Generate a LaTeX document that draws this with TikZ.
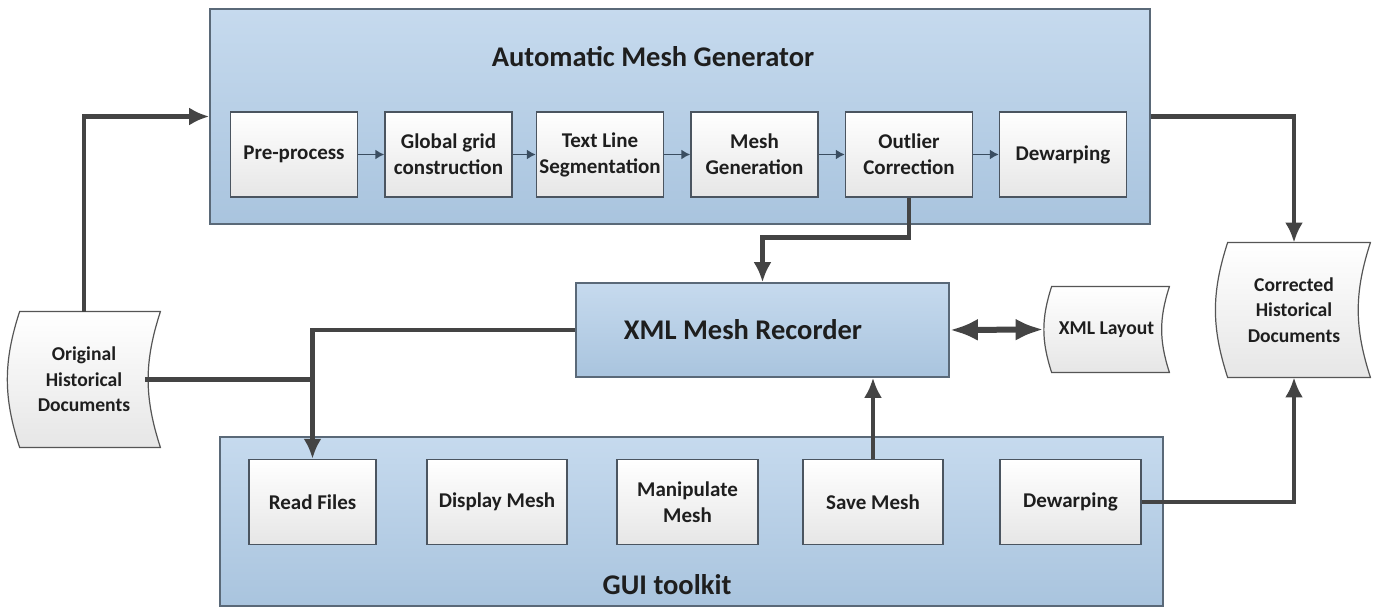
\documentclass[tikz,border=0pt]{standalone}
\usepackage{fontspec}
\setmainfont{Carlito}
\usetikzlibrary{arrows.meta,backgrounds}
\definecolor{paneltop}{HTML}{C6DAEE}
\definecolor{panelbot}{HTML}{A9C4DE}
\definecolor{panelline}{HTML}{5A6978}
\definecolor{boxline}{HTML}{4B5560}
\definecolor{boxbot}{HTML}{E6E6E6}
\definecolor{docline}{HTML}{555555}
\definecolor{txt}{HTML}{1E1E1E}
\definecolor{flowgray}{HTML}{444444}
\definecolor{thinblue}{HTML}{3A4D60}
\tikzset{
  panel/.style={draw=panelline, line width=0.8pt, top color=paneltop, bottom color=panelbot, inner sep=0pt},
  stepbox/.style={draw=boxline, line width=0.7pt, top color=white, bottom color=boxbot, minimum width=63.5pt, minimum height=42.5pt, inner sep=0pt, align=center, text=txt, font=\bfseries\fontsize{10.5}{13}\selectfont},
  docbox/.style={inner sep=0pt, align=center, text=txt, font=\bfseries\fontsize{9.8}{12.75}\selectfont},
  title/.style={text=txt, font=\bfseries\fontsize{14.25}{17}\selectfont},
  link/.style={draw=flowgray, line width=2.2pt},
  flow/.style={link, -{Latex[length=10pt,width=9pt]}},
  twoway/.style={link, line width=3pt, {Latex[length=14pt,width=11pt]}-{Latex[length=14pt,width=11pt]}},
  thin/.style={draw=thinblue, line width=0.8pt, -{Latex[length=4.5pt,width=5pt]}}
}
% outline of a stored-data document
\newcommand{\docoutline}[2]{%
  \shadedraw[draw=docline, line width=0.6pt, top color=white, bottom color=boxbot]
    ([xshift=#2]#1.north west) -- (#1.north east) to[bend right=18] (#1.south east)
    -- ([xshift=#2]#1.south west) to[bend left=18] cycle;}
\begin{document}
\begin{tikzpicture}[x=0.5pt,y=-0.5pt]
\useasboundingbox (0,0) rectangle (1376,609);

% automatic mesh generator
\node[panel, minimum width=470pt, minimum height=107.5pt] (amg) at (680,116.5) {};
\node[title] (amgtitle) at (653,57) {Automatic Mesh Generator};
\node[stepbox] (pre) at (294,154.5) {Pre-process};
\node[stepbox] (grid) at (448.5,154.5) {Global grid\\construction};
\node[stepbox] (seg) at (600,154.5) {Text Line\\Segmentation};
\node[stepbox] (mgen) at (754.5,154.5) {Mesh\\Generation};
\node[stepbox] (outl) at (909,154.5) {Outlier\\Correction};
\node[stepbox] (dew) at (1063,154.5) {Dewarping};
\draw[thin] (pre) -- (grid);
\draw[thin] (grid) -- (seg);
\draw[thin] (seg) -- (mgen);
\draw[thin] (mgen) -- (outl);
\draw[thin] (outl) -- (dew);

% recorder
\node[panel, minimum width=186.5pt, minimum height=47pt,
      label={[title, xshift=-9.75pt]center:XML Mesh Recorder}] (xmlrec) at (762.5,330) {};

% gui toolkit
\node[panel, minimum width=471.5pt, minimum height=84.5pt] (gui) at (691.5,521.5) {};
\node[title] (guititle) at (667,585) {GUI toolkit};
\node[stepbox] (read) at (312.5,502) {Read Files};
\node[stepbox, minimum width=70pt] (disp) at (497,502) {Display Mesh};
\node[stepbox, minimum width=70.5pt] (manip) at (687.5,502) {Manipulate\\Mesh};
\node[stepbox, minimum width=70pt] (save) at (873,502) {Save Mesh};
\node[stepbox, minimum width=70.5pt] (gdew) at (1070.5,502) {Dewarping};

% documents
\node[docbox, minimum width=76pt, minimum height=67.5pt] (orig) at (84,379.5) {Original\\Historical\\Documents};
\node[docbox, minimum width=62.5pt, minimum height=42.5pt] (layout) at (1106.5,329.5) {XML Layout};
\node[docbox, minimum width=76pt, minimum height=67pt] (corr) at (1294,310) {Corrected\\Historical\\Documents};
\begin{scope}[on background layer]
\fill[white] (0,0) rectangle (1376,609);
\docoutline{orig}{6pt}
\docoutline{layout}{4pt}
\docoutline{corr}{5pt}
\end{scope}

% connectors
\draw[flow] (orig.north) |- (amg.west);
\draw[flow] (amg.east) -| (corr.north);
\draw[flow] (outl.south) -- ++(0,40) -| (xmlrec.north);
\draw[twoway] (xmlrec.east) -- (layout.west);
\draw[flow] (xmlrec.west) -| (read.north);
\draw[link] ([xshift=-7.5pt]orig.east) -- (orig.east -| read.north);
\draw[flow] (save.north) -- (save.north |- xmlrec.south);
\draw[flow] (gdew.east) -| (corr.south);
\end{tikzpicture}
\end{document}
